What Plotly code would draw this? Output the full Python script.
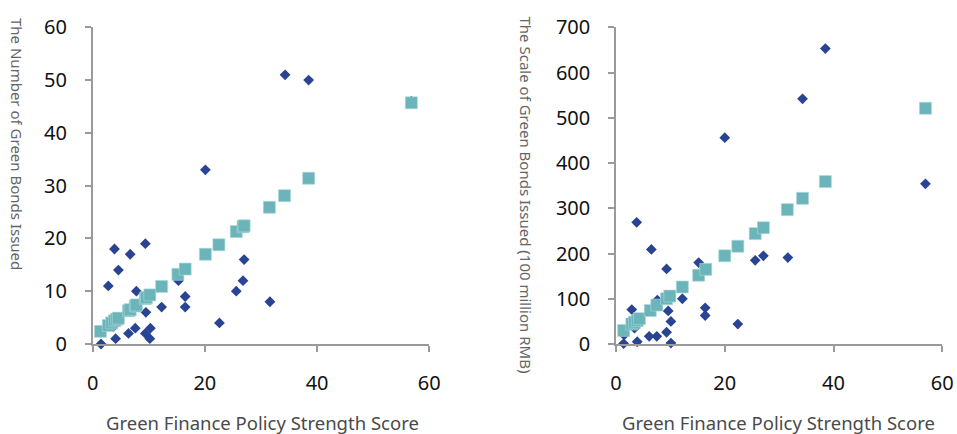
import plotly.graph_objects as go

# ---- Data ----
# Left panel: number of green bonds issued
left_x = [1.5, 2.8, 3.7, 3.9, 4.1, 4.6, 6.4, 6.7, 7.6, 7.8, 9.4, 9.5, 9.4, 10.3, 10.2,
          12.3, 15.3, 16.5, 16.5, 20.1, 22.6, 25.6, 26.8, 27.0, 31.6, 34.3, 38.5, 56.8]
left_y = [0, 11, 3.3, 18, 1, 14, 2, 17, 3, 10, 19, 6, 2, 3, 1,
          7, 12, 9, 7, 33, 4, 10, 12, 16, 8, 51, 50, 46]
left_fit_x = [1.4, 2.8, 3.4, 3.9, 4.3, 4.6, 6.4, 6.7, 7.6, 7.8, 9.4, 9.6, 10.2, 12.3,
              15.2, 16.5, 20.1, 22.5, 25.6, 26.8, 27.0, 31.5, 34.2, 38.5, 56.8]
left_fit_y = [2.4, 3.5, 4.0, 4.4, 4.7, 4.9, 6.3, 6.5, 7.2, 7.4, 8.6, 8.8, 9.3, 10.9,
              13.2, 14.2, 17.0, 18.8, 21.3, 22.2, 22.4, 25.9, 28.1, 31.4, 45.7]

# Right panel: scale of green bonds issued (100 million RMB)
right_x = [1.4, 1.5, 2.9, 3.4, 3.8, 3.9, 6.1, 6.5, 7.5, 7.6, 9.3, 9.3, 9.6, 10.1, 10.1,
           12.2, 15.2, 16.4, 16.4, 20.0, 22.4, 25.6, 27.1, 31.6, 34.3, 38.5, 56.9]
right_y = [1, 20, 76, 35, 269, 5, 17, 209, 17, 97, 166, 26, 73, 50, 2,
           100, 180, 80, 63, 456, 44, 185, 195, 191, 542, 653, 354]
right_fit_x = [1.4, 2.9, 3.4, 3.9, 4.3, 6.3, 7.5, 9.3, 9.9, 12.2, 15.2, 16.5, 20.0,
               22.4, 25.6, 27.1, 31.5, 34.3, 38.5, 56.9]
right_fit_y = [30, 44, 48, 52, 56, 74, 86, 100, 106, 126, 152, 165, 195,
               216, 244, 257, 297, 322, 359, 521]

x_ticks = [0, 20, 40, 60]
left_y_ticks = [0, 10, 20, 30, 40, 50, 60]
right_y_ticks = [0, 100, 200, 300, 400, 500, 600, 700]

x_title = "Green Finance Policy Strength Score"
left_y_title = "The Number of Green Bonds Issued"
right_y_title = "The Scale of Green Bonds Issued (100 million RMB)"

DIAMOND = "#2A4494"
SQUARE = "#6BB5BA"
AXIS = "#9A9A9A"
FONT = "Noto Sans"

fig = go.Figure()

fig.add_trace(go.Scatter(x=left_x, y=left_y, mode="markers", xaxis="x", yaxis="y",
                         marker=dict(symbol="diamond", size=8.3, color=DIAMOND, line=dict(width=0)),
                         cliponaxis=False, showlegend=False, hoverinfo="skip"))
fig.add_trace(go.Scatter(x=left_fit_x, y=left_fit_y, mode="markers", xaxis="x", yaxis="y",
                         marker=dict(symbol="square", size=12, color=SQUARE,
                                     line=dict(width=0.6, color="#A9D6D9")),
                         cliponaxis=False, showlegend=False, hoverinfo="skip"))
fig.add_trace(go.Scatter(x=right_x, y=right_y, mode="markers", xaxis="x2", yaxis="y2",
                         marker=dict(symbol="diamond", size=8.3, color=DIAMOND, line=dict(width=0)),
                         cliponaxis=False, showlegend=False, hoverinfo="skip"))
fig.add_trace(go.Scatter(x=right_fit_x, y=right_fit_y, mode="markers", xaxis="x2", yaxis="y2",
                         marker=dict(symbol="square", size=12, color=SQUARE,
                                     line=dict(width=0.6, color="#A9D6D9")),
                         cliponaxis=False, showlegend=False, hoverinfo="skip"))

W, H = 957, 434

def xax(domain, anchor):
    return dict(domain=domain, anchor=anchor, range=[0, 60], tickvals=x_ticks,
                automargin=False,
                showgrid=False, zeroline=False, showline=True, linecolor=AXIS, linewidth=1.5,
                ticks="outside", ticklen=6, tickcolor=AXIS, tickwidth=1.5,
                tickfont=dict(family=FONT, size=20, color="#111111"),
                ticklabelstandoff=14)

def yax(domain, anchor, rng, vals):
    return dict(domain=domain, anchor=anchor, range=rng, tickvals=vals,
                automargin=False,
                showgrid=False, zeroline=False, showline=True, linecolor=AXIS, linewidth=1.5,
                ticks="outside", ticklen=6, tickcolor=AXIS, tickwidth=1.5,
                tickfont=dict(family=FONT, size=20, color="#111111"),
                ticklabelstandoff=14)

ydom = [90 / H, 406.7 / H]
fig.update_layout(
    width=W, height=H, autosize=False,
    margin=dict(l=0, r=0, t=0, b=0, pad=0),
    paper_bgcolor="white", plot_bgcolor="white",
    hovermode=False,
    xaxis=xax([92.6 / W, 429.3 / W], "y"),
    yaxis=yax(ydom, "x", [0, 60], left_y_ticks),
    xaxis2=xax([616 / W, 942.3 / W], "y2"),
    yaxis2=yax(ydom, "x2", [0, 700], right_y_ticks),
)

ann_font = dict(family=FONT, size=18.5, color="#4A4A4A")
fig.add_annotation(text=x_title, xref="paper", yref="paper", x=262 / W, y=12 / H,
                   xanchor="center", yanchor="middle", showarrow=False, font=ann_font)
fig.add_annotation(text=x_title, xref="paper", yref="paper", x=778 / W, y=12 / H,
                   xanchor="center", yanchor="middle", showarrow=False, font=ann_font)

yt_font = dict(family=FONT, size=15, color="#666666")
fig.add_annotation(text=left_y_title, xref="paper", yref="paper", x=17 / W, y=1 - 16 / H,
                   xanchor="center", yanchor="top", textangle=90, showarrow=False, font=yt_font)
fig.add_annotation(text=right_y_title, xref="paper", yref="paper", x=526 / W, y=1 - 14 / H,
                   xanchor="center", yanchor="top", textangle=90, showarrow=False, font=yt_font)

fig.write_html("out.html", config={"displayModeBar": False},
               post_script="document.body.style.margin='0';document.body.style.overflow='hidden';")
